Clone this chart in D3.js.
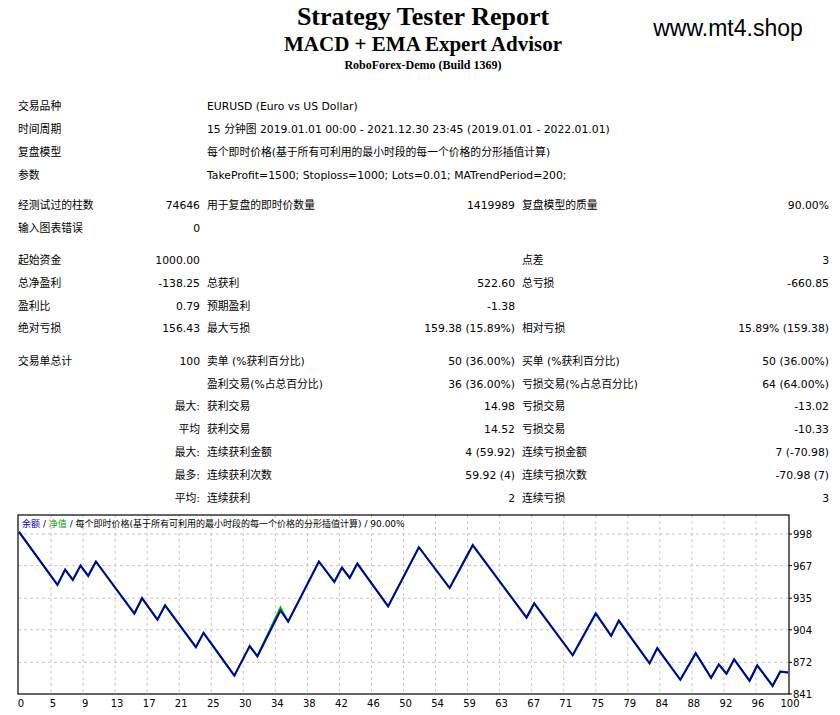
<!DOCTYPE html>
<html><head><meta charset="utf-8">
<script src="https://cdn.jsdelivr.net/npm/d3@7"></script>
<style>
body{margin:0;background:#fff}
text{font-family:"DejaVu Sans","Noto Sans CJK SC",sans-serif;font-size:10.8px;fill:#000}
.title{font-family:"Liberation Serif",serif;font-weight:bold}
</style></head><body>
<svg id="chart"></svg>
<script>
// balance after each trade (index = trade number)
const tradeIdx = [0,5,6,7,8,9,10,15,16,18,19,23,24,28,30,31,34,35,39,41,42,43,44,48,52,56,59,66,67,72,75,77,78,82,83,86,88,90,91,92,93,95,96,98,99,100];
const balance = [1000,948,963,953,967,957,971,920,935,914,928,887,901,859,888,878,923,912,971,951,965,955,969,927,985,945,987,916,930,879,920,898,913,871,886,855,881,857,870,861,875,854,869,849,863,862];
const equity = tradeIdx.map((t, i) => t === 34 ? 926 : balance[i]);
const yTicks = [841,872,904,935,967,998];
const xTickLabels = [0,5,9,13,17,21,25,30,34,38,42,46,50,54,59,63,67,71,75,79,84,88,92,96,100];

// report table rows: [y, col1 label, col2 value, col3 label, col4 value, col5 label, col6 value]
const rows = [
  [106,"交易品种","","EURUSD (Euro vs US Dollar)","","",""],
  [129,"时间周期","","15 分钟图 2019.01.01 00:00 - 2021.12.30 23:45 (2019.01.01 - 2022.01.01)","","",""],
  [152,"复盘模型","","每个即时价格(基于所有可利用的最小时段的每一个价格的分形插值计算)","","",""],
  [175,"参数","","TakeProfit=1500; Stoploss=1000; Lots=0.01; MATrendPeriod=200;","","",""],
  [205,"经测试过的柱数","74646","用于复盘的即时价数量","1419989","复盘模型的质量","90.00%"],
  [228,"输入图表错误","0","","","",""],
  [260,"起始资金","1000.00","","","点差","3"],
  [283,"总净盈利","-138.25","总获利","522.60","总亏损","-660.85"],
  [306,"盈利比","0.79","预期盈利","-1.38","",""],
  [328,"绝对亏损","156.43","最大亏损","159.38 (15.89%)","相对亏损","15.89% (159.38)"],
  [361,"交易单总计","100","卖单 (%获利百分比)","50 (36.00%)","买单 (%获利百分比)","50 (36.00%)"],
  [384,"","","盈利交易(%占总百分比)","36 (36.00%)","亏损交易(%占总百分比)","64 (64.00%)"],
  [406,"","最大:","获利交易","14.98","亏损交易","-13.02"],
  [429,"","平均","获利交易","14.52","亏损交易","-10.33"],
  [452,"","最大:","连续获利金额","4 (59.92)","连续亏损金额","7 (-70.98)"],
  [475,"","最多:","连续获利次数","59.92 (4)","连续亏损次数","-70.98 (7)"],
  [498,"","平均:","连续获利","2","连续亏损","3"]
];

const svg = d3.select("#chart").attr("width", 840).attr("height", 715);

svg.append("text").attr("class", "title").attr("x", 423).attr("y", 25)
  .attr("text-anchor", "middle").style("font-size", "26px").text("Strategy Tester Report");
svg.append("text").attr("class", "title").attr("x", 423).attr("y", 51)
  .attr("text-anchor", "middle").style("font-size", "21px").text("MACD + EMA Expert Advisor");
svg.append("text").attr("class", "title").attr("x", 423).attr("y", 69)
  .attr("text-anchor", "middle").style("font-size", "12px").text("RoboForex-Demo (Build 1369)");
svg.append("text").attr("x", 728).attr("y", 36).attr("text-anchor", "middle")
  .style("font-family", "Liberation Sans, sans-serif").style("font-size", "23px").text("www.mt4.shop");

const cols = [[18,"start"],[200,"end"],[207,"start"],[515,"end"],[522,"start"],[829,"end"]];
rows.forEach(r => {
  cols.forEach((c, i) => {
    if (r[i + 1] !== "") svg.append("text").attr("x", c[0]).attr("y", r[0] + 4)
      .attr("text-anchor", c[1]).text(r[i + 1]);
  });
});

// chart
const L = 18, R = 789, T = 515, B = 694;
const x = d3.scaleLinear().domain([0, 100]).range([19, 788]);
const y = d3.scaleLinear().domain([841, 998]).range([694, 534]);
const g = svg.append("g");

g.selectAll(".hg").data(yTicks.slice(1)).enter().append("line")
  .attr("x1", L).attr("x2", R).attr("y1", d => y(d)).attr("y2", d => y(d))
  .attr("stroke", "#c8c8c8").attr("stroke-dasharray", "3,3");
const xStep = 100 / 24;
g.selectAll(".vg").data(xTickLabels.slice(1, -1)).enter().append("line")
  .attr("x1", (d, i) => x((i + 1) * xStep)).attr("x2", (d, i) => x((i + 1) * xStep))
  .attr("y1", T).attr("y2", B)
  .attr("stroke", "#c8c8c8").attr("stroke-dasharray", "3,3");

g.append("rect").attr("x", L).attr("y", T).attr("width", R - L).attr("height", B - T)
  .attr("fill", "none").attr("stroke", "#000").attr("stroke-width", 1.2);

const line = vals => d3.line().x((d, i) => x(tradeIdx[i])).y(d => y(d))(vals);
g.append("path").attr("d", line(equity)).attr("fill", "none").attr("stroke", "#00c000").attr("stroke-width", 2);
g.append("path").attr("d", line(balance)).attr("fill", "none").attr("stroke", "#0000a8").attr("stroke-width", 2);

// axes labels
g.selectAll(".yl").data(yTicks).enter().append("text")
  .attr("x", R + 4).attr("y", d => y(d) + 4).style("font-size", "10px").text(d => d);
g.selectAll(".yt").data(yTicks).enter().append("line")
  .attr("x1", R).attr("x2", R + 3).attr("y1", d => y(d)).attr("y2", d => y(d)).attr("stroke", "#000");
g.selectAll(".xl").data(xTickLabels).enter().append("text")
  .attr("x", (d, i) => x(i * xStep) + 2).attr("y", B + 13).attr("text-anchor", "middle")
  .style("font-size", "10px").text(d => d);

const leg = g.append("text").attr("x", L + 4).attr("y", T + 12).style("font-size", "9px");
leg.append("tspan").style("fill", "#0000a8").text("余额");
leg.append("tspan").text(" / ");
leg.append("tspan").style("fill", "#00a000").text("净值");
leg.append("tspan").text(" / 每个即时价格(基于所有可利用的最小时段的每一个价格的分形插值计算) / 90.00%");
</script>
</body></html>
